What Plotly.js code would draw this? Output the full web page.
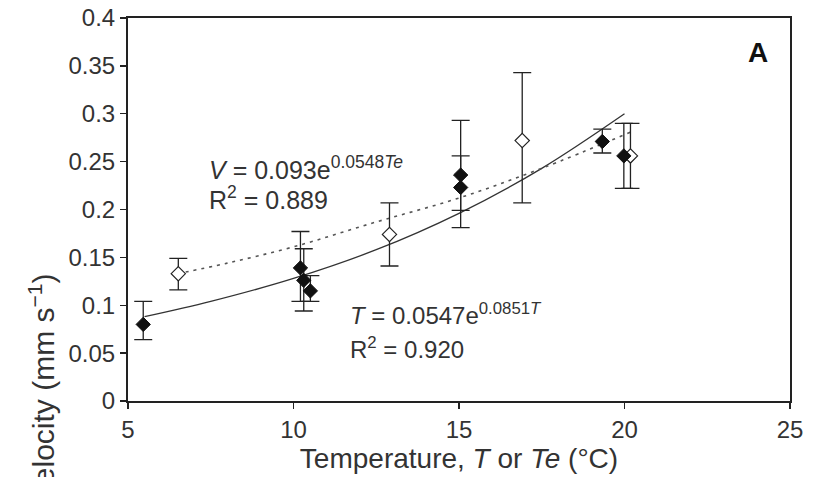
<!DOCTYPE html>
<html>
<head>
<meta charset="utf-8">
<script src="https://cdn.plot.ly/plotly-3.0.1.min.js"></script>
<style>
  html, body { margin: 0; padding: 0; background: #fff; }
  #chart { width: 820px; height: 477px; }
</style>
</head>
<body>
<div id="chart"></div>
<script>
// Filled diamonds: velocity vs temperature T
const tempT = [5.46, 10.21, 10.31, 10.51, 15.05, 15.05, 19.33, 19.98];
const velT = [0.080, 0.139, 0.126, 0.115, 0.236, 0.223, 0.271, 0.256];
const errT_plus = [0.024, 0.038, 0.033, 0.016, 0.057, 0.033, 0.013, 0.034];
const errT_minus = [0.016, 0.035, 0.032, 0.011, 0.055, 0.024, 0.012, 0.034];

// Open diamonds: velocity vs effective temperature Te
const tempTe = [6.52, 12.90, 16.91, 20.18];
const velTe = [0.133, 0.174, 0.272, 0.256];
const errTe_plus = [0.016, 0.033, 0.071, 0.034];
const errTe_minus = [0.017, 0.033, 0.065, 0.034];

// Fitted curves
const fitT_x = [5.5, 7.5, 10, 12.5, 15, 17.5, 20];
const fitT_y = [0.088, 0.104, 0.128, 0.158, 0.196, 0.243, 0.300];
const fitTe_x = [6.5, 8, 10, 12.5, 15, 17.5, 20.2];
const fitTe_y = [0.133, 0.144, 0.161, 0.187, 0.212, 0.243, 0.281];

// Axis ticks
const xTicks = [5, 10, 15, 20, 25];
const yTicks = [0, 0.05, 0.1, 0.15, 0.2, 0.25, 0.3, 0.35, 0.4];
const yTickText = ['0', '0.05', '0.1', '0.15', '0.2', '0.25', '0.3', '0.35', '0.4'];

const FONT = 'Liberation Sans, Arial, sans-serif';
const INK = '#222';

const traces = [
  { x: fitT_x, y: fitT_y, type: 'scatter', mode: 'lines',
    line: { color: '#333', width: 1.3, shape: 'spline' }, hoverinfo: 'skip' },
  { x: fitTe_x, y: fitTe_y, type: 'scatter', mode: 'lines',
    line: { color: '#555', width: 1.6, dash: '3px,5px', shape: 'spline' }, hoverinfo: 'skip' },
  { x: tempTe, y: velTe, type: 'scatter', mode: 'markers',
    marker: { symbol: 'diamond', size: 11, color: '#fff', line: { color: INK, width: 1.2 } },
    error_y: { type: 'data', symmetric: false, array: errTe_plus, arrayminus: errTe_minus,
               color: INK, thickness: 1.3, width: 9 } },
  { x: tempT, y: velT, type: 'scatter', mode: 'markers',
    marker: { symbol: 'diamond', size: 11, color: '#111', line: { color: '#111', width: 1 } },
    error_y: { type: 'data', symmetric: false, array: errT_plus, arrayminus: errT_minus,
               color: INK, thickness: 1.3, width: 9 } }
];

const layout = {
  width: 820, height: 477,
  margin: { l: 127.5, r: 30, t: 18, b: 76, pad: 0 },
  paper_bgcolor: '#fff', plot_bgcolor: '#fff',
  showlegend: false,
  font: { family: FONT, color: INK },
  xaxis: {
    range: [5, 25], tickvals: xTicks, ticktext: xTicks.map(String),
    showgrid: false, zeroline: false, showline: true, mirror: true,
    linecolor: INK, linewidth: 2, ticks: 'outside', ticklen: 6, tickcolor: INK, tickwidth: 1.3,
    tickfont: { family: FONT, size: 24, color: '#333' },
    title: { text: 'Temperature, <i>T</i> or <i>Te</i> (°C)', font: { family: FONT, size: 28, color: '#333' }, standoff: 0 }
  },
  yaxis: {
    range: [0, 0.4], tickvals: yTicks, ticktext: yTickText,
    showgrid: false, zeroline: false, showline: true, mirror: true,
    linecolor: INK, linewidth: 2, ticks: 'outside', ticklen: 6, tickcolor: INK, tickwidth: 1.3,
    tickfont: { family: FONT, size: 24, color: '#333' }
  },
  annotations: [
    { xref: 'paper', yref: 'paper', x: -0.1306, y: 0.034, xanchor: 'center', yanchor: 'middle',
      textangle: -90, showarrow: false,
      text: 'Velocity (mm s<sup>−1</sup>)', font: { family: FONT, size: 30, color: '#333' } },
    { xref: 'x', yref: 'y', x: 7.40, y: 0.243, xanchor: 'left', yanchor: 'middle', showarrow: false,
      text: '<i>V</i> = 0.093e<sup>0.0548<i>Te</i></sup>', font: { family: FONT, size: 25, color: '#333' } },
    { xref: 'x', yref: 'y', x: 7.40, y: 0.212, xanchor: 'left', yanchor: 'middle', showarrow: false,
      text: 'R<sup>2</sup> = 0.889', font: { family: FONT, size: 25, color: '#333' } },
    { xref: 'x', yref: 'y', x: 11.66, y: 0.091, xanchor: 'left', yanchor: 'middle', showarrow: false,
      text: '<i>T</i> = 0.0547e<sup>0.0851<i>T</i></sup>', font: { family: FONT, size: 24, color: '#333' } },
    { xref: 'x', yref: 'y', x: 11.66, y: 0.055, xanchor: 'left', yanchor: 'middle', showarrow: false,
      text: 'R<sup>2</sup> = 0.920', font: { family: FONT, size: 24, color: '#333' } },
    { xref: 'paper', yref: 'paper', x: 0.951, y: 0.911, xanchor: 'center', yanchor: 'middle', showarrow: false,
      text: '<b>A</b>', font: { family: FONT, size: 28, color: '#111' } }
  ]
};

Plotly.newPlot('chart', traces, layout, { displayModeBar: false, staticPlot: true });
</script>
</body>
</html>
